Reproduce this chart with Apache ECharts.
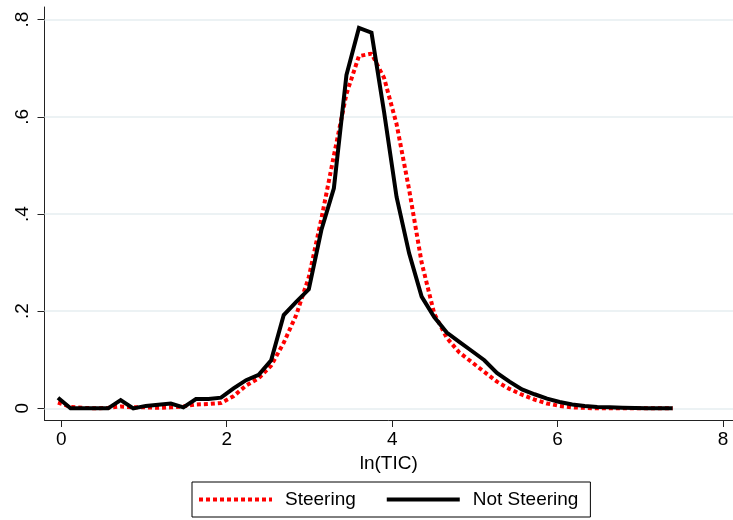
<!DOCTYPE html>
<html>
<head>
<meta charset="utf-8">
<script src="https://cdn.jsdelivr.net/npm/echarts@6/dist/echarts.min.js"></script>
<style>
  html, body { margin: 0; padding: 0; background: #fff; }
  #chart { width: 733px; height: 520px; }
</style>
</head>
<body>
<div id="chart"></div>
<script>
// kdensity evaluation points, ln(TIC)
const lnTIC = [
  -0.04, 0.112, 0.263, 0.415, 0.566, 0.718, 0.870, 1.021, 1.173, 1.324,
  1.476, 1.628, 1.779, 1.931, 2.082, 2.234, 2.386, 2.537, 2.689, 2.840,
  2.992, 3.144, 3.295, 3.447, 3.598, 3.750, 3.902, 4.053, 4.205, 4.356,
  4.508, 4.660, 4.811, 4.963, 5.114, 5.266, 5.418, 5.569, 5.721, 5.872,
  6.024, 6.176, 6.327, 6.479, 6.630, 6.782, 6.934, 7.085, 7.237, 7.390
];

const steering = [
  0.012, 0.003, 0.001, 0.000, 0.001, 0.004, 0.002, 0.002, 0.001, 0.002,
  0.004, 0.008, 0.009, 0.011, 0.025, 0.047, 0.062, 0.088, 0.135, 0.192,
  0.270, 0.390, 0.520, 0.647, 0.725, 0.730, 0.680, 0.585, 0.450, 0.300,
  0.195, 0.145, 0.115, 0.095, 0.075, 0.055, 0.040, 0.028, 0.018, 0.010,
  0.005, 0.002, 0.001, 0.000, 0.000, 0.000, 0.000, 0.000, 0.000, 0.000
];

const notSteering = [
  0.022, 0.000, 0.000, 0.000, 0.000, 0.017, 0.000, 0.005, 0.0075, 0.010,
  0.002, 0.019, 0.019, 0.022, 0.041, 0.058, 0.069, 0.099, 0.192, 0.219,
  0.245, 0.367, 0.453, 0.686, 0.783, 0.773, 0.610, 0.435, 0.319, 0.230,
  0.188, 0.156, 0.137, 0.118, 0.099, 0.073, 0.055, 0.039, 0.029, 0.020,
  0.013, 0.008, 0.005, 0.003, 0.002, 0.001, 0.0005, 0.0003, 0.0002, 0.0001
];

const xTicks = [0, 2, 4, 6, 8];
const yTicks = [0, 0.2, 0.4, 0.6, 0.8];
const yTickLabels = ['0', '.2', '.4', '.6', '.8'];

const FONT = 'Liberation Sans, Arial, sans-serif';
const DOTS = [4, 3];

const chart = echarts.init(document.getElementById('chart'), null, { renderer: 'canvas' });

chart.setOption({
  backgroundColor: '#ffffff',
  animation: false,
  grid: { left: 44.5, right: 0, top: 7, bottom: 100, containLabel: false },
  legend: {
    left: 192,
    top: 482,
    orient: 'horizontal',
    borderColor: '#000',
    borderWidth: 1,
    padding: [8, 12, 8, 5],
    itemGap: 29,
    itemWidth: 73,
    itemHeight: 14,
    itemStyle: { opacity: 0 },
    lineStyle: { width: 4 },
    textStyle: { color: '#000', fontSize: 19, fontFamily: FONT, padding: [0, 0, 0, 8] },
    data: ['Steering', 'Not Steering']
  },
  xAxis: {
    type: 'value',
    min: -0.203,
    max: 8.12,
    name: 'ln(TIC)',
    nameLocation: 'middle',
    nameGap: 31,
    nameTextStyle: { color: '#000', fontSize: 19, fontFamily: FONT },
    axisLine: { show: true, onZero: false, lineStyle: { color: '#222', width: 1 } },
    axisTick: { show: true, length: 7, customValues: xTicks, lineStyle: { color: '#222', width: 1 } },
    axisLabel: {
      customValues: xTicks, margin: 10,
      color: '#000', fontSize: 19, fontFamily: FONT
    },
    splitLine: { show: false }
  },
  yAxis: {
    type: 'value',
    min: -0.024,
    max: 0.826,
    axisLine: { show: true, onZero: false, lineStyle: { color: '#222', width: 1 } },
    axisTick: { show: true, length: 7, customValues: yTicks, lineStyle: { color: '#222', width: 1 } },
    axisLabel: {
      customValues: yTicks, rotate: 90, margin: 12,
      color: '#000', fontSize: 19, fontFamily: FONT,
      formatter: v => yTickLabels[yTicks.findIndex(t => Math.abs(t - v) < 1e-6)] ?? ''
    },
    splitLine: { show: false }
  },
  series: [
    {
      // horizontal gridlines at the y tick values
      name: 'grid',
      type: 'line',
      data: [],
      silent: true,
      z: 1,
      markLine: {
        silent: true,
        symbol: 'none',
        z: 1,
        label: { show: false },
        lineStyle: { color: '#e6eef1', width: 1.5, type: 'solid' },
        data: yTicks.map(v => ({ yAxis: v }))
      }
    },
    {
      name: 'Steering',
      type: 'line',
      data: lnTIC.map((x, i) => [x, steering[i]]),
      symbol: 'none',
      smooth: false,
      lineStyle: { color: '#ff0000', width: 4, type: DOTS, cap: 'butt' },
      itemStyle: { color: '#ff0000' },
      z: 3
    },
    {
      name: 'Not Steering',
      type: 'line',
      data: lnTIC.map((x, i) => [x, notSteering[i]]),
      symbol: 'none',
      smooth: false,
      lineStyle: { color: '#000000', width: 4, join: 'miter' },
      itemStyle: { color: '#000000' },
      z: 4
    }
  ]
});
</script>
</body>
</html>
